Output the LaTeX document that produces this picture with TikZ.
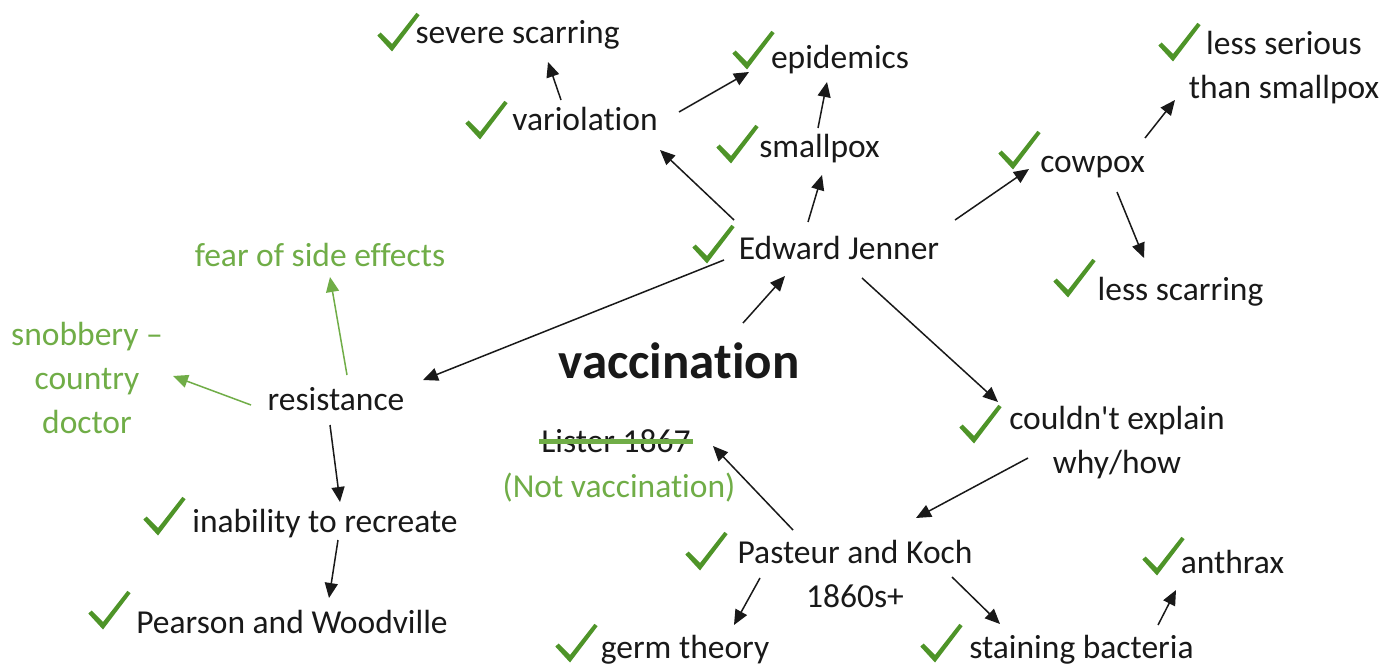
\documentclass[tikz,border=0pt]{standalone}
\usepackage{fontspec}
\setmainfont{Carlito}[Ligatures={TeXOff,NoCommon}]
\usetikzlibrary{arrows.meta}
\definecolor{tickgreen}{RGB}{78,148,40}
\definecolor{lightgreen}{RGB}{112,173,71}
\definecolor{ink}{RGB}{25,25,25}
\tikzset{
  lbl/.style={inner sep=0pt, anchor=base, font=\fontsize{16.75pt}{22pt}\selectfont, text=ink},
  ml/.style={lbl, align=center},
  glbl/.style={lbl, text=lightgreen},
  arr/.style={draw=ink, line width=0.75pt, -{Triangle[length=7.5pt,width=6.5pt]}},
  garr/.style={arr, draw=lightgreen},
  tick/.pic={\fill[tickgreen] (-14.7,-13.5) -- (0,2.5) -- (27.6,-33.8) -- (24.4,-36.2) -- (0,-5) -- (-11.3,-16.5) -- cycle;}
}
\begin{document}
\begin{tikzpicture}[x=0.5pt,y=-0.5pt]
\fill[white] (0,0) rectangle (1400,663);
\useasboundingbox (0,0) rectangle (1400,663);

% nodes (multi-line nodes are placed at their last baseline)
\node[lbl] (sev) at (517.5,44) {severe scarring};
\node[lbl] (var) at (585,131) {variolation};
\node[lbl] (epi) at (840,69) {epidemics};
\node[lbl] (sp) at (819.5,158) {smallpox};
\node[ml] (lss) at (1284,99) {less serious\\than smallpox};
\node[lbl] (cow) at (1092.5,173) {cowpox};
\node[lbl] (lsc) at (1180.5,300) {less scarring};
\node[lbl] (ej) at (839,259) {Edward Jenner};
\node[lbl, font=\fontsize{25.5pt}{30pt}\selectfont\bfseries] (vac) at (679,378) {vaccination};
\node[lbl] (res) at (336,410) {resistance};
\node[glbl] (fear) at (320,266) {fear of side effects};
\node[ml, text=lightgreen] (snob) at (87,433) {snobbery –\\country\\doctor};
\node[ml] (cou) at (1117,473) {couldn't explain\\why/how};
\node[lbl] (lis) at (616,452) {Lister 1867};
\node[glbl] (nv) at (619,497) {(Not vaccination)};
\node[lbl] (inab) at (325,532) {inability to recreate};
\node[lbl] (pw) at (292,633) {Pearson and Woodville};
\node[ml] (pk) at (855,607) {Pasteur and Koch\\1860s+};
\node[lbl] (anth) at (1232.5,573) {anthrax};
\node[lbl] (germ) at (685,658) {germ theory};
\node[lbl] (stain) at (1081.5,658) {staining bacteria};

% strike-through
\draw[lightgreen, line width=2.5pt] ([shift={(-2,-11)}]lis.base west) -- ([shift={(2,-11)}]lis.base east);

% ticks
\pic at (392,49) {tick};
\pic at (480,137) {tick};
\pic at (747,67) {tick};
\pic at (731,161) {tick};
\pic at (1173,59) {tick};
\pic at (1013,167) {tick};
\pic at (1068,295) {tick};
\pic at (707,261) {tick};
\pic at (974,441) {tick};
\pic at (158,533) {tick};
\pic at (103,627) {tick};
\pic at (700,568) {tick};
\pic at (1157,573) {tick};
\pic at (570,660) {tick};
\pic at (935,660) {tick};

% connectors
\draw[arr] ([shift={(-24,-31)}]var.base) -- ([shift={(30.5,18)}]sev.base);
\draw[arr] ([shift={(94,-19)}]var.base) -- ([shift={(-91,3)}]epi.base);
\draw[arr] ([shift={(-1.5,-30)}]sp.base) -- ([shift={(-13,13)}]epi.base);
\draw[arr] ([shift={(-105,-39)}]ej.base) -- ([shift={(75,19)}]var.base);
\draw[arr] ([shift={(-31,-37)}]ej.base) -- ([shift={(2.5,17)}]sp.base);
\draw[arr] ([shift={(116,-39)}]ej.base) -- ([shift={(-63.5,-4)}]cow.base);
\draw[arr] ([shift={(52.5,-35)}]cow.base) -- ([shift={(-109,1)}]lss.base);
\draw[arr] ([shift={(24.5,19)}]cow.base) -- ([shift={(-36.5,-42)}]lsc.base);
\draw[arr] ([shift={(64,-55)}]vac.base) -- ([shift={(-54,17)}]ej.base);
\draw[arr] ([shift={(-115,1)}]ej.base) -- ([shift={(87,-30)}]res.base);
\draw[arr] ([shift={(23,19)}]ej.base) -- ([shift={(-119,-71)}]cou.base);
\draw[garr] ([shift={(11,-35)}]res.base) -- ([shift={(10,11)}]fear.base);
\draw[garr] ([shift={(-85,-5)}]res.base) -- ([shift={(86,-57)}]snob.base);
\draw[arr] ([shift={(-6,15)}]res.base) -- ([shift={(15,-30)}]inab.base);
\draw[arr] ([shift={(13,8)}]inab.base) -- ([shift={(37,-35)}]pw.base);
\draw[arr] ([shift={(-89,-15)}]cou.base) -- ([shift={(61,-89)}]pk.base);
\draw[arr] ([shift={(-62,-77)}]pk.base) -- ([shift={(97,-6)}]lis.base);
\draw[arr] ([shift={(-95,-29)}]pk.base) -- ([shift={(49,-33)}]germ.base);
\draw[arr] ([shift={(97,-30)}]pk.base) -- ([shift={(-81.5,-34)}]stain.base);
\draw[arr] ([shift={(76.5,-33)}]stain.base) -- ([shift={(-56.5,17)}]anth.base);
\end{tikzpicture}
\end{document}
